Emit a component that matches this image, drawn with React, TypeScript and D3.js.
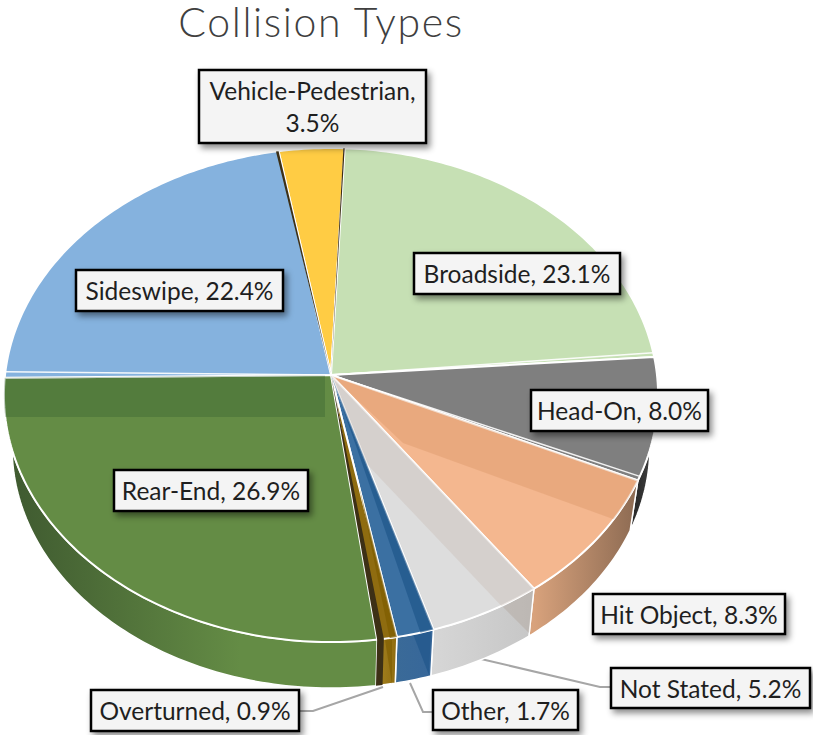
import * as d3 from 'd3'

const categories = ['Vehicle-Pedestrian', 'Broadside', 'Head-On', 'Hit Object', 'Not Stated', 'Other', 'Overturned', 'Rear-End', 'Sideswipe']
const shares = [3.5, 23.1, 8.0, 8.3, 5.2, 1.7, 0.9, 26.9, 22.4]

const topColors = ['#ffcc44', '#c6e0b4', '#7f7f7f', '#f4b78f', '#dddddd', '#3b70a2', '#8f6c10', '#648c45', '#85b2de']
const wallStops = [
  ['#a88520', '#a88520'],
  ['#a0b890', '#a0b890'],
  ['#2c2c2c', '#4a4a4a'],
  ['#d8a27c', '#8c6a52'],
  ['#d6d6d6', '#c6c6c6'],
  ['#3a6a98', '#37679a'],
  ['#a58220', '#8f6c10'],
  ['#3f5a30', '#648c45'],
  ['#5f86ad', '#5f86ad'],
]

// label boxes as measured on the picture: x, y, w, h
const labelBoxes = [
  [199, 70, 227, 73],
  [414, 253, 206, 41],
  [531, 390, 177, 41],
  [593, 594, 192, 40],
  [611, 668, 199, 40],
  [433, 690, 145, 40],
  [91, 690, 208, 41],
  [114, 470, 194, 41],
  [76, 270, 207, 41],
]

const leaders: [number, number][][] = [
  [[481, 659], [600, 687], [612, 687]],
  [[410, 683], [423, 712], [434, 712]],
  [[383, 687], [313, 711], [299, 711]],
]

// light/shadow bands on the top faces and walls: slice index, polygon, colour, opacity
const topShades: { i: number; pts: [number, number][]; fill: string; op: number }[] = [
  { i: 7, pts: [[0, 360], [325, 360], [325, 417], [0, 417]], fill: '#2f5a2a', op: 0.3 },
  { i: 3, pts: [[331, 375], [403, 443], [660, 536], [660, 375]], fill: '#d08a58', op: 0.3 },
  { i: 4, pts: [[331, 375], [363, 460], [510, 615], [600, 600], [500, 375]], fill: '#c4b4a8', op: 0.3 },
  { i: 5, pts: [[331, 375], [355, 443], [423, 640], [480, 640], [420, 375]], fill: '#1d5488', op: 0.65 },
  { i: 6, pts: [[331, 375], [352, 450], [390, 640], [420, 640]], fill: '#7d5c00', op: 0.7 },
]
const wallShades: { pts: [number, number][]; fill: string; op: number }[] = [
  { pts: [[503, 607], [533, 590], [529, 633]], fill: '#b0a298', op: 0.4 },
  { pts: [[413, 634], [431, 631], [429, 675]], fill: '#1d5488', op: 0.6 },
  { pts: [[385, 640], [392, 640], [392, 684]], fill: '#7d5c00', op: 0.6 },
]

const WIDTH = 813
const HEIGHT = 735
const ax = 331
const ay = 375
const Rx = 326
const Ry = 245.4
const persp = 0.081
const wallScale = 0.975
const wallDrop = 52.7

const DEG = Math.PI / 180
const startAngle = -10 * DEG

const project = (t: number, s = 1, dy = 0): [number, number] => {
  const v = -Math.cos(t)
  const w = 1 - persp * v
  return [ax + (Rx * s * Math.sin(t)) / w, ay + dy + (Ry * s * v) / w]
}
const topPt = (t: number) => project(t)
const botPt = (t: number) => project(t, wallScale, wallDrop)

const line = d3.line<[number, number]>()
const closed = (pts: [number, number][]) => line(pts) + 'Z'
const sweep = (a: number, b: number) => {
  const n = Math.max(2, Math.ceil((b - a) / (1 * DEG)))
  return d3.range(n + 1).map(k => a + ((b - a) * k) / n)
}

const arcs = d3.pie<number>().sort(null).startAngle(startAngle).endAngle(startAngle + 2 * Math.PI).value(d => d)(shares)

const topPath = (a: number, b: number) => closed([[ax, ay], ...sweep(a, b).map(topPt)])
const wallPath = (a: number, b: number) => {
  const ts = sweep(a, b)
  return closed([...ts.map(topPt), ...ts.slice().reverse().map(botPt)])
}

export default function App() {
  const font = 'Lato, "Open Sans", sans-serif'
  return (
    <svg width={WIDTH} height={HEIGHT} style={{ position: 'absolute', left: 0, top: 0, display: 'block', background: '#fff' }}>
      <defs>
        <filter id="labelShadow" x="-15%" y="-25%" width="130%" height="160%">
          <feDropShadow dx="3" dy="4" stdDeviation="3" floodColor="#000" floodOpacity="0.45" />
        </filter>
        {arcs.map((d, i) => {
          const xs = sweep(d.startAngle, d.endAngle).map(t => topPt(t)[0])
          const [x0, x1] = d3.extent(xs) as [number, number]
          return (
            <linearGradient key={i} id={`wall${i}`} gradientUnits="userSpaceOnUse" x1={i === 7 ? 12 : x0} x2={i === 7 ? 240 : x1} y1={0} y2={0}>
              <stop offset="0" stopColor={wallStops[i][0]} />
              <stop offset="1" stopColor={wallStops[i][1]} />
            </linearGradient>
          )
        })}
        {arcs.map((d, i) => (
          <clipPath key={i} id={`top${i}`}>
            <path d={topPath(d.startAngle, d.endAngle)} />
          </clipPath>
        ))}
      </defs>

      <text x={321} y={37} textAnchor="middle" fontFamily={font} fontWeight={300} fontSize={41} letterSpacing={1.6} fill="#3f3f3f">
        Collision Types
      </text>

      {leaders.map((pts, i) => (
        <path key={i} d={line(pts) as string} fill="none" stroke="#a6a6a6" strokeWidth={2} />
      ))}

      {arcs.map((d, i) => (
        <path key={i} d={wallPath(d.startAngle, d.endAngle)} fill={`url(#wall${i})`} stroke="#fff" strokeWidth={1.5} />
      ))}
      {wallShades.map((s, i) => (
        <path key={i} d={closed(s.pts)} fill={s.fill} opacity={s.op} />
      ))}

      {arcs.map((d, i) => (
        <path key={i} d={topPath(d.startAngle, d.endAngle)} fill={topColors[i]} stroke="#fff" strokeWidth={2} strokeLinejoin="round" />
      ))}
      {topShades.map((s, i) => (
        <path key={i} d={closed(s.pts)} fill={s.fill} opacity={s.op} clipPath={`url(#top${s.i})`} />
      ))}

      {/* dark cut faces where the slices are pulled apart */}
      {[
        { t: arcs[7].startAngle, w: 1.1 },
        { t: arcs[0].startAngle, w: 0.5 },
        { t: arcs[0].endAngle, w: 0.25 },
      ].map((c, i) => {
        const a = topPt(c.t)
        const b = topPt(c.t - c.w * DEG)
        return <path key={i} d={closed([[ax, ay], b, ...(i === 0 ? [botPt(c.t - c.w * DEG), botPt(c.t)] : []), a])} fill="#3d3016" />
      })}

      {/* doubled highlight lines along the radial seams */}
      {[arcs[8].startAngle, arcs[1].endAngle, arcs[2].endAngle].map((t, i) => {
        const p = topPt(t + (i === 0 ? 1.4 : -1) * DEG)
        return <line key={i} x1={ax} y1={ay} x2={p[0]} y2={p[1]} stroke="#fff" strokeWidth={1.5} opacity={0.9} />
      })}

      {categories.map((c, i) => {
        const [x, y, w, h] = labelBoxes[i]
        const label = `${c}, ${shares[i].toFixed(1)}%`
        return (
          <g key={c}>
            <rect x={x} y={y} width={w} height={h} fill="#f4f4f4" stroke="#000" strokeWidth={2.5} filter="url(#labelShadow)" />
            {i === 0 ? (
              <text textAnchor="middle" fontFamily={font} fontSize={24.5} fill="#1f1f1f">
                <tspan x={x + w / 2} y={y + 30}>{`${c},`}</tspan>
                <tspan x={x + w / 2} y={y + 62}>{`${shares[i].toFixed(1)}%`}</tspan>
              </text>
            ) : (
              <text x={x + w / 2} y={y + 29.5} textAnchor="middle" fontFamily={font} fontSize={24.5} fill="#1f1f1f">
                {label}
              </text>
            )}
          </g>
        )
      })}
    </svg>
  )
}
